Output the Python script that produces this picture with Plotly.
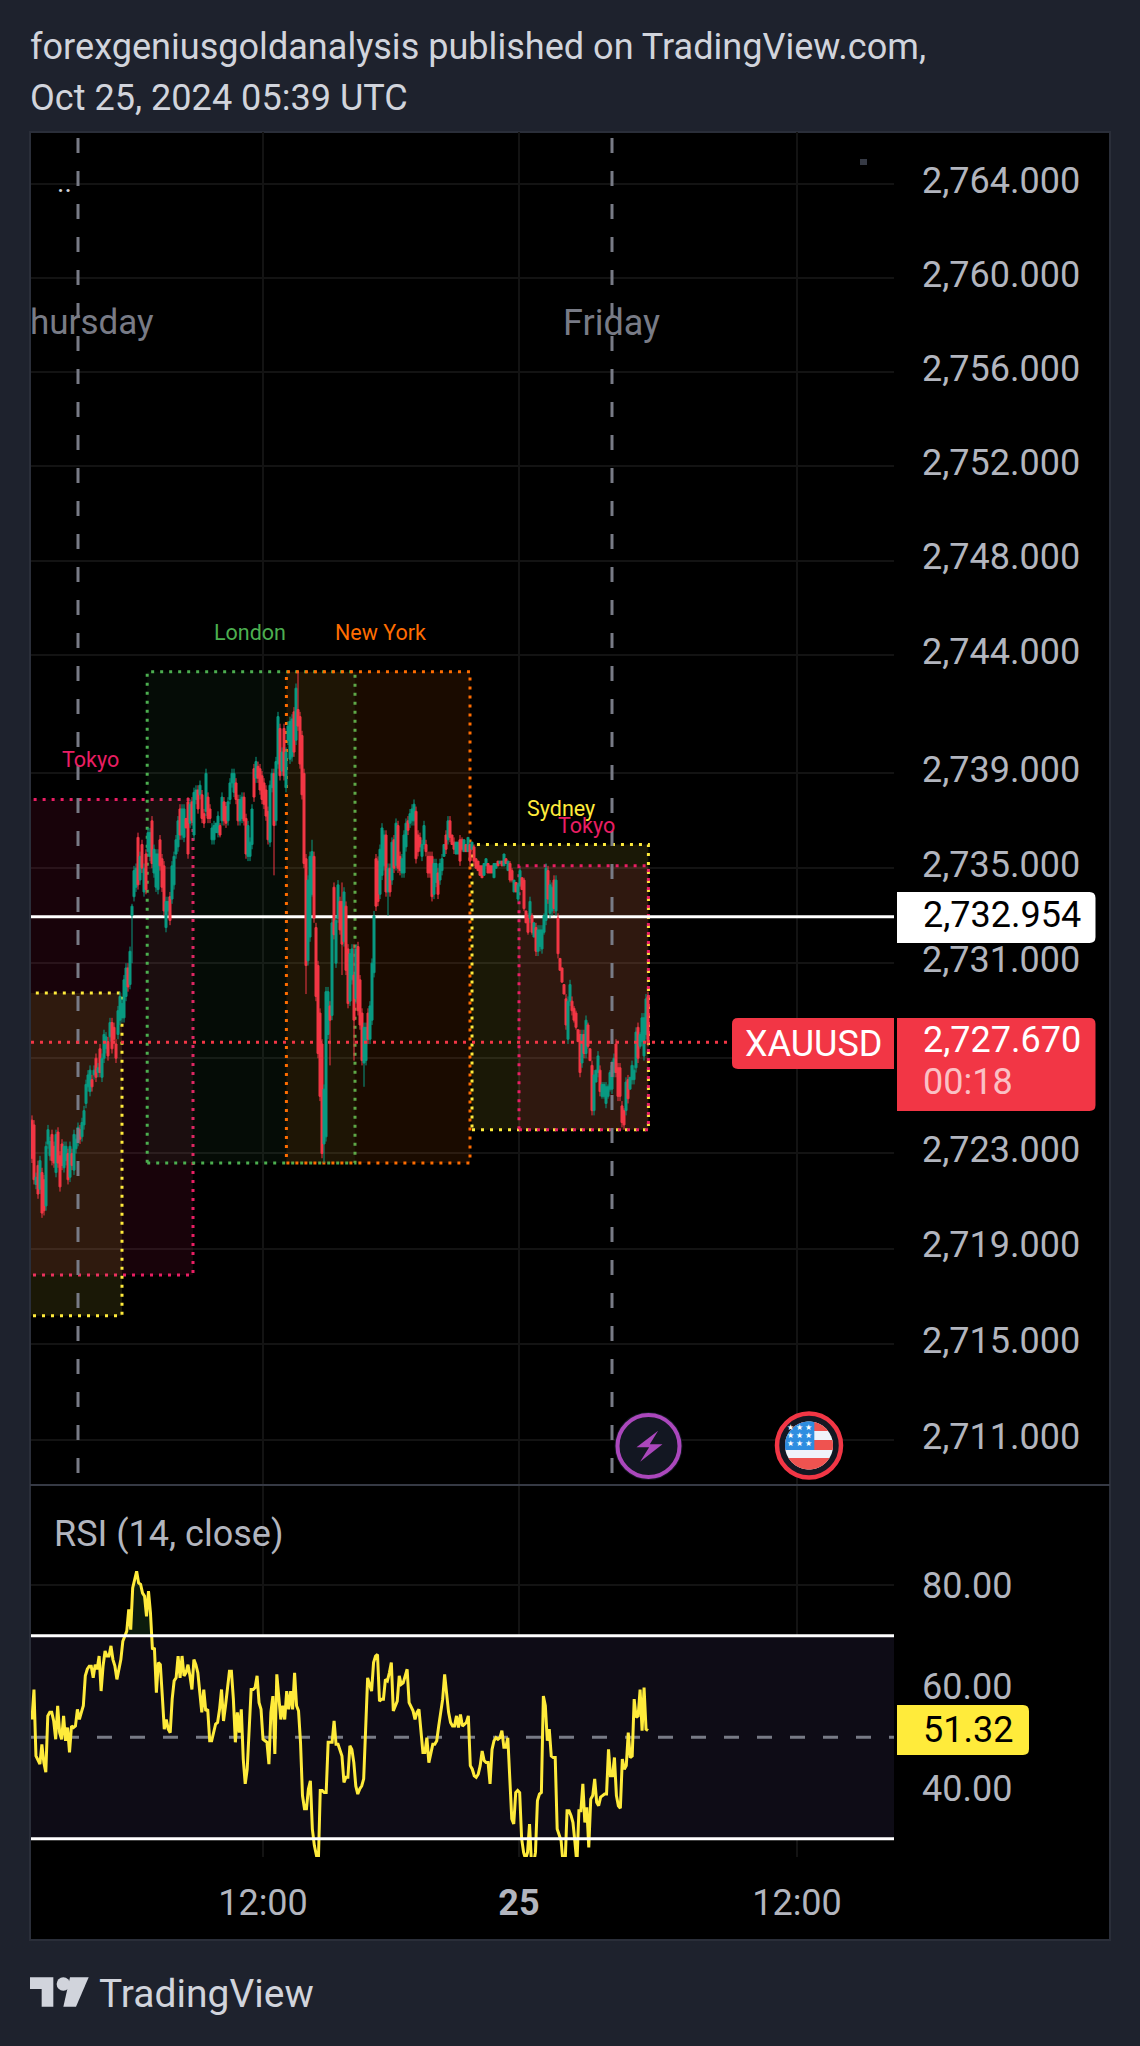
import math
import plotly.graph_objects as go

W, H = 1140, 2046
PRICE_BASE = 2700

# 5-minute XAUUSD bars, quoted as an offset from PRICE_BASE
bar_open = [
 24.4,24.2,21.7,22.5,21.5,22.2,21.9,20.8,23.4,22.9,
 23.8,23.3,22.2,23.9,22.9,23.4,22.4,22.7,23.0,22.0,
 23.0,22.3,23.2,23.5,24.0,23.7,24.2,25.1,25.8,25.6,
 26.1,26.3,27.0,26.4,27.4,26.2,27.0,27.4,27.7,27.9,
 28.5,28.3,27.6,28.0,28.6,28.7,28.7,29.6,30.8,30.1,
 33.0,33.8,34.2,36.3,34.5,36.0,34.0,35.6,35.7,35.5,
 37.0,34.8,34.2,34.1,36.2,35.4,35.1,32.5,33.2,33.8,
 33.7,34.3,35.6,35.9,37.5,36.4,36.3,37.1,37.8,36.9,
 37.8,36.4,37.9,38.3,38.1,38.1,37.3,37.4,38.0,37.5,
 36.2,36.2,36.5,36.5,36.8,37.0,37.8,37.6,37.0,37.9,
 38.6,38.2,38.6,37.9,37.0,37.1,38.0,37.1,35.5,35.5,
 36.0,39.2,38.8,39.3,39.2,38.9,38.6,38.3,37.4,36.1,
 38.4,39.0,37.0,39.4,40.9,39.1,40.9,38.4,40.4,39.6,
 39.7,41.6,40.4,41.7,41.4,40.6,39.0,35.4,31.1,32.1,
 33.9,35.5,32.5,30.9,28.9,27.6,23.4,23.7,28.0,29.2,
 28.8,34.2,31.0,32.9,33.6,33.6,31.9,33.4,31.6,29.4,
 30.3,30.5,29.5,31.7,30.3,28.9,26.8,26.9,28.9,27.8,
 28.6,30.6,35.4,35.3,33.9,34.7,35.1,36.4,34.0,35.0,
 34.5,36.2,35.1,36.8,35.5,34.8,34.8,35.9,37.0,36.9,
 37.0,37.0,37.4,36.4,36.3,35.5,36.0,36.0,35.5,35.5,
 35.5,33.9,34.4,34.8,34.5,34.9,35.5,36.4,36.2,37.0,
 36.4,36.1,35.6,35.6,36.2,36.2,35.7,36.0,35.7,36.0,
 35.8,35.9,35.4,35.3,35.1,35.1,34.7,35.1,35.2,35.1,
 35.1,34.6,35.0,35.3,35.2,35.3,35.1,35.4,34.9,35.2,
 34.9,34.0,34.4,33.7,34.3,34.6,34.5,33.2,33.0,32.9,
 33.0,32.1,32.5,31.5,31.7,31.6,32.3,32.8,34.9,33.1,
 33.2,34.5,33.2,32.9,31.2,30.8,30.1,29.5,27.8,29.4,
 29.4,29.1,28.9,28.2,28.0,26.8,28.0,27.2,28.4,27.4,
 26.7,24.8,26.0,26.4,26.5,25.4,25.4,25.1,25.4,25.7,
 25.7,26.4,27.6,26.6,26.6,25.0,24.8,24.8,26.1,25.7,
 26.1,26.1,26.6,28.3,27.5,27.7,27.1,28.0,29.6]
bar_close = [
 22.8,21.9,22.0,21.3,22.7,20.5,20.6,23.3,24.0,23.5,
 22.7,22.6,23.8,22.6,21.6,22.5,23.3,23.3,21.9,23.3,
 22.5,23.8,23.6,24.1,23.6,24.3,24.8,25.9,26.3,26.5,
 25.8,26.5,26.2,26.6,26.4,27.0,28.0,27.9,27.1,28.5,
 27.4,27.8,27.0,29.0,29.6,29.3,30.3,30.8,30.0,31.5,
 33.4,34.9,35.0,34.3,35.5,35.0,35.0,34.1,36.5,36.5,
 35.2,35.8,35.6,35.6,35.1,34.2,33.2,33.6,33.6,32.8,
 35.1,35.5,36.2,37.0,36.4,37.5,37.5,36.7,35.6,37.7,
 37.0,38.2,38.3,37.5,38.5,37.1,36.9,39.0,37.1,37.1,
 36.7,36.8,36.9,37.2,36.4,38.0,37.0,36.9,37.8,38.6,
 39.0,39.0,37.9,37.0,37.9,38.0,37.0,35.6,36.8,36.1,
 37.5,38.0,39.5,38.8,38.3,37.9,37.7,37.2,36.2,38.5,
 39.0,36.8,39.5,41.4,38.9,39.9,38.9,39.9,41.0,41.2,
 41.3,39.9,42.6,41.0,39.4,38.1,35.2,30.9,34.5,35.5,
 35.7,32.9,29.6,27.2,25.4,23.0,25.7,29.8,29.8,28.6,
 32.7,32.2,32.8,34.3,32.4,31.8,34.0,30.7,29.3,31.4,
 31.6,28.6,31.6,29.0,28.4,26.9,28.3,28.3,27.8,29.2,
 31.0,33.0,33.4,33.6,35.8,36.7,36.4,34.0,35.0,34.0,
 36.1,35.0,36.9,35.0,34.9,35.4,36.4,36.9,36.6,37.3,
 37.5,37.7,35.4,35.7,35.9,36.0,36.8,35.7,34.8,34.8,
 33.8,35.2,35.2,33.9,35.2,35.4,36.0,35.8,37.0,36.3,
 36.0,35.8,36.1,36.1,35.3,35.8,36.2,35.7,36.3,35.3,
 36.1,35.3,35.0,34.9,34.7,34.6,35.2,35.4,34.8,34.8,
 34.8,35.2,35.2,35.1,35.3,35.1,35.6,35.2,35.3,34.5,
 34.5,34.5,34.0,34.3,34.9,34.1,33.3,32.7,32.3,33.6,
 32.3,32.7,31.5,32.4,32.4,32.4,33.0,35.0,33.7,34.3,
 34.2,33.3,34.5,31.4,30.7,30.2,29.7,28.4,29.4,30.1,
 29.0,28.6,28.3,27.7,26.4,28.0,27.2,28.6,27.5,26.9,
 24.8,26.3,26.5,27.1,25.6,25.9,25.9,25.8,25.8,26.4,
 26.7,27.0,26.4,25.4,25.4,24.3,24.2,26.0,25.3,26.2,
 26.7,26.5,28.1,27.0,28.0,28.7,28.7,29.5,27.67]
bar_high = [
 24.6,24.4,22.2,22.7,22.9,22.4,22.1,23.5,24.2,23.7,
 24.0,23.5,24.0,24.1,23.1,23.6,23.5,23.5,23.2,23.5,
 23.2,24.0,23.8,24.3,24.2,24.5,25.0,26.1,26.5,26.7,
 26.3,26.7,27.2,26.8,27.6,27.2,28.2,28.1,27.9,28.7,
 28.7,28.5,27.8,29.2,29.8,29.5,30.5,31.0,31.0,31.7,
 33.5,35.1,35.2,36.5,35.7,36.2,35.2,35.8,36.7,36.7,
 37.2,36.0,35.8,35.8,36.4,35.6,35.3,33.8,33.8,34.0,
 35.3,35.7,36.4,37.2,37.7,37.7,37.7,37.1,38.0,37.9,
 38.0,38.4,38.5,38.5,38.7,38.3,37.5,39.2,38.2,37.7,
 36.9,37.0,36.9,37.4,36.9,38.2,38.0,37.8,38.0,38.8,
 39.2,39.2,38.8,38.1,38.1,38.2,38.2,37.3,37.0,36.3,
 37.7,39.4,39.7,39.5,39.4,39.1,38.8,38.5,37.6,38.7,
 39.2,39.2,39.7,41.6,41.1,40.1,41.1,40.1,41.2,41.4,
 41.5,41.8,42.8,43.3,41.6,40.8,39.2,35.6,34.7,35.7,
 36.2,35.7,32.7,31.1,29.1,27.8,25.9,30.0,30.0,29.4,
 32.9,34.4,33.0,34.5,33.8,34.4,34.2,33.6,31.8,31.6,
 31.8,31.8,31.8,31.9,30.5,29.1,28.5,28.5,29.1,29.4,
 31.2,33.2,35.6,35.5,36.0,36.9,36.6,36.6,35.2,35.2,
 36.3,36.4,37.1,37.0,35.7,35.6,36.6,37.1,37.2,37.5,
 37.7,37.9,37.6,36.6,36.5,36.2,37.0,36.2,35.7,35.7,
 35.7,35.4,35.4,35.0,35.4,35.6,36.0,36.6,37.2,37.2,
 36.4,36.3,36.1,36.1,36.4,36.3,36.2,36.0,36.3,36.1,
 36.1,36.0,35.4,35.3,35.1,35.1,35.2,35.4,35.2,35.1,
 35.1,35.2,35.2,35.3,35.3,35.3,35.6,35.4,35.3,35.3,
 35.0,34.5,34.4,34.4,35.0,34.6,34.6,33.2,33.1,33.8,
 33.1,32.7,32.7,32.6,32.6,32.6,33.1,35.2,35.1,34.5,
 34.4,34.7,34.7,33.1,31.2,30.8,30.1,29.7,29.6,30.3,
 29.6,29.2,29.0,28.2,28.2,28.2,28.2,28.8,28.5,27.4,
 26.9,26.5,26.5,27.3,26.7,26.0,26.0,26.0,25.9,26.5,
 26.9,27.2,27.8,26.8,26.8,25.2,24.9,26.2,26.3,26.2,
 26.9,26.7,28.3,28.5,28.1,28.9,28.9,29.7,29.8]
bar_low = [
 22.6,21.7,21.5,21.1,21.3,20.3,20.4,20.6,23.2,22.7,
 22.5,22.4,22.0,22.4,21.4,22.3,22.2,22.5,21.7,21.8,
 22.3,22.1,23.0,23.3,23.4,23.5,24.0,24.9,25.6,25.4,
 25.6,26.1,26.0,26.2,26.2,26.0,26.8,27.2,26.9,27.7,
 27.2,27.6,26.8,27.8,28.4,28.5,28.5,29.4,29.8,29.9,
 31.0,33.6,34.0,34.1,34.3,34.8,33.8,33.9,35.5,35.3,
 35.0,34.6,34.0,33.9,34.9,34.0,33.0,32.3,33.0,32.6,
 33.5,34.1,35.4,35.7,36.2,36.2,36.1,36.7,35.4,36.7,
 36.8,36.2,37.7,37.3,37.9,36.9,36.7,37.2,36.9,36.9,
 36.0,36.0,36.5,36.3,36.3,36.8,36.8,36.7,36.8,37.7,
 38.4,38.0,37.7,36.8,36.8,36.9,36.8,35.4,35.3,35.3,
 35.8,37.8,38.6,38.6,38.1,37.7,37.5,37.0,36.0,35.9,
 38.2,34.7,36.8,39.2,38.7,38.9,38.7,38.2,40.2,39.4,
 39.5,39.7,40.2,40.8,39.2,37.9,35.0,29.7,30.9,31.9,
 33.8,32.7,29.4,27.0,25.2,22.8,22.6,23.5,27.8,26.7,
 28.6,32.0,30.8,32.7,32.2,30.5,31.7,30.5,29.1,29.2,
 30.1,26.9,29.3,28.8,28.2,26.7,25.8,26.7,27.6,27.6,
 28.4,30.4,33.2,33.4,33.7,34.5,34.9,33.8,33.0,33.8,
 34.3,34.8,34.9,34.8,34.7,34.6,34.6,35.7,36.4,36.7,
 36.8,36.8,35.2,35.5,35.7,35.3,35.8,35.5,34.6,34.6,
 33.6,33.7,34.2,33.7,34.3,34.7,35.5,35.6,36.0,36.1,
 36.0,35.6,35.6,35.6,35.1,35.7,35.7,35.7,35.7,35.1,
 35.8,35.1,35.0,34.9,34.7,34.6,34.7,35.1,34.8,34.8,
 34.8,34.6,35.0,35.1,35.2,35.1,35.1,35.2,34.9,34.4,
 34.4,34.0,34.0,33.6,34.2,34.1,33.2,32.7,32.2,32.7,
 32.2,32.1,31.3,31.3,31.5,31.4,32.2,32.6,33.5,32.9,
 33.0,33.1,33.0,31.2,30.7,30.2,29.7,28.2,27.6,29.2,
 28.8,28.5,28.2,27.7,26.2,26.6,27.0,27.0,27.4,26.9,
 24.6,24.6,26.0,26.2,25.4,25.3,25.3,24.9,25.3,25.6,
 25.5,26.2,26.2,25.2,25.2,24.1,24.0,24.6,25.1,25.7,
 25.9,25.9,26.4,26.8,27.4,27.5,26.9,27.8,27.5]

# RSI(14) readings, spread evenly from the first bar to the most recent one
rsi_values = [
 53.5,59.4,46.3,45.4,44.7,48.6,45.0,43.1,54.2,54.9,54.9,53.2,49.6,56.2,50.9,49.6,
 54.2,49.3,51.9,47.0,52.2,51.9,52.2,55.5,53.5,54.9,56.2,62.1,63.4,64.0,64.0,61.7,
 64.3,63.4,66.0,59.1,64.0,67.0,66.0,66.0,68.0,65.3,64.0,61.4,63.4,65.3,68.9,69.9,
 70.9,75.2,71.2,79.4,81.0,82.7,80.4,80.1,78.4,77.8,73.8,78.8,74.5,67.3,67.6,58.8,
 64.7,64.3,58.1,51.6,53.5,51.6,50.9,57.5,61.1,61.7,66.0,61.7,66.0,62.1,62.7,64.3,
 62.1,59.4,65.3,64.3,62.7,58.1,54.9,59.4,55.2,55.5,49.3,49.3,50.9,52.6,52.9,55.5,
 59.4,53.2,56.2,59.4,63.0,63.0,57.5,49.0,54.9,50.9,55.5,45.7,40.8,43.7,50.9,59.4,
 59.4,59.8,62.1,56.8,55.5,49.6,49.3,49.0,44.7,54.9,58.1,46.7,62.4,58.1,53.5,56.2,
 53.5,59.1,55.5,59.1,55.5,62.7,56.2,55.2,49.0,38.5,35.9,35.9,39.8,41.4,31.9,28.7,
 26.7,25.0,39.5,39.5,39.1,39.1,49.0,49.0,49.0,53.2,48.6,48.6,47.6,46.3,41.1,42.1,
 42.1,48.3,47.6,45.0,40.4,38.8,
 39.8,40.4,41.8,52.2,61.7,60.4,59.1,64.7,66.0,66.3,57.1,57.5,57.5,61.4,61.1,62.7,
 64.7,55.2,56.2,57.1,62.1,60.4,60.7,62.1,63.4,56.8,55.8,55.2,53.5,54.9,55.5,50.9,
 47.0,47.0,49.9,45.0,47.0,48.6,48.6,49.3,52.2,54.9,57.5,62.4,58.8,54.9,52.9,52.2,
 52.2,54.2,51.9,54.5,52.2,52.6,52.9,54.2,44.4,43.7,42.4,42.1,42.7,44.4,47.3,45.4,
 45.0,45.0,40.8,47.6,49.3,49.9,49.6,49.9,51.3,48.0,48.0,49.9,41.1,33.9,32.9,39.1,
 39.5,39.1,30.0,27.3,26.0,27.3,32.9,25.0,25.0,27.3,37.5,38.8,39.1,58.1,56.2,49.3,
 51.6,46.3,46.0,46.0,31.9,30.6,29.6,25.0,25.0,35.5,35.5,34.6,33.2,29.3,25.0,35.5,
 35.5,40.8,33.2,36.2,28.3,37.8,38.5,41.8,37.2,36.5,38.2,38.5,38.8,38.8,47.6,42.4,
 42.4,46.0,38.5,36.5,36.0,45.7,43.7,44.4,50.9,46.0,46.3,57.5,53.9,54.2,59.4,51.3,
 59.8,51.6,51.32]

# Session windows: name, first bar, last bar, low, high (low/high as offsets)
# The two earliest sessions opened before the first visible bar.
session_names = ["Tokyo", "Sydney", "London", "New York", "Sydney", "Tokyo"]
session_start = [-40, -40, 57.6, 127.2, 220, 243.5]
session_end = [80.5, 45, 161.5, 219, 308.2, 308.2]
session_low = [17.9, 16.2, 22.6, 22.6, 24.0, 24.0]
session_high = [37.9, 29.75, 43.3, 43.3, 36.0, 35.1]

price_ticks = [2764, 2760, 2756, 2752, 2748, 2744, 2739, 2735, 2731, 2727, 2723, 2719, 2715, 2711]
price_tick_text = ["2,764.000", "2,760.000", "2,756.000", "2,752.000", "2,748.000", "2,744.000",
                   "2,739.000", "2,735.000", "2,731.000", "", "2,723.000", "2,719.000",
                   "2,715.000", "2,711.000"]
rsi_ticks = [80, 60, 40]
rsi_tick_text = ["80.00", "60.00", "40.00"]
time_ticks = [115.5, 243.5, 382.5]
time_tick_text = ["12:00", "<b>25</b>", "12:00"]
session_breaks = [23, 290]

LAST_PRICE = 2727.670
MARKED_PRICE = 2732.954
LAST_RSI = 51.32

BG = "#1e222d"
UP = "#089981"
DOWN = "#f23645"
GRID = "#131313"
AXIS_TEXT = "#b2b5be"
SESSION_COLORS = {"Tokyo": "233,30,99", "Sydney": "255,235,59", "London": "76,175,80", "New York": "255,109,0"}
SESSION_ALPHA = {"Tokyo": 0.10, "Sydney": 0.10, "London": 0.07, "New York": 0.10}


def px(x):
    return x / W


def py(y):
    return 1 - y / H


def path_of(points):
    return "M " + " L ".join(f"{px(x):.5f} {py(y):.5f}" for x, y in points) + " Z"


def round_rect(x0, y0, x1, y1, rl, rr):
    a, b, c, d = px(x0), py(y0), px(x1), py(y1)
    lx, ly, rx, ry = px(rl), rl / H, px(rr), rr / H
    return (f"M {a+lx:.5f} {b:.5f} L {c-rx:.5f} {b:.5f} Q {c:.5f} {b:.5f} {c:.5f} {b-ry:.5f} "
            f"L {c:.5f} {d+ry:.5f} Q {c:.5f} {d:.5f} {c-rx:.5f} {d:.5f} L {a+lx:.5f} {d:.5f} "
            f"Q {a:.5f} {d:.5f} {a:.5f} {d+ly:.5f} L {a:.5f} {b-ly:.5f} Q {a:.5f} {b:.5f} {a+lx:.5f} {b:.5f} Z")


def disc_part(cx, cy, r, x0, x1, y0, y1):
    pts = []
    for k in range(96):
        t = 2 * math.pi * k / 96
        pts.append((min(max(cx + r * math.cos(t), x0), x1), min(max(cy + r * math.sin(t), y0), y1)))
    return path_of(pts)


shapes, notes = [], []


def paper_shape(**kw):
    shapes.append(dict(xref="paper", yref="paper", layer="above", **kw))


def paper_rect(x0, y0, x1, y1, **kw):
    paper_shape(type="rect", x0=px(x0), x1=px(x1), y0=py(y0), y1=py(y1), **kw)


def paper_circle(cx, cy, r, **kw):
    paper_shape(type="circle", x0=px(cx - r), x1=px(cx + r), y0=py(cy + r), y1=py(cy - r), **kw)


def label(text, x, y, size, color, anchor="left", family="Roboto"):
    notes.append(dict(text=text, x=px(x), y=py(y), xref="paper", yref="paper", showarrow=False,
                      xanchor=anchor, yanchor="middle", font=dict(family=family, size=size, color=color)))


# page frame and black chart well
shapes.append(dict(type="rect", xref="paper", yref="paper", x0=px(30), x1=px(1110), y0=py(132), y1=py(1940),
                   fillcolor="#000000", line=dict(color="#2a2e39", width=2), layer="below"))

# session boxes
for name, x0, x1, lo, hi in zip(session_names, session_start, session_end, session_low, session_high):
    rgb = SESSION_COLORS[name]
    shapes.append(dict(type="rect", xref="x", yref="y", x0=x0, x1=x1, y0=PRICE_BASE + lo, y1=PRICE_BASE + hi,
                       fillcolor=f"rgba({rgb},{SESSION_ALPHA[name]})",
                       line=dict(color=f"rgb({rgb})", width=3, dash="3px,6px"), layer="between"))

# session break markers
for b in session_breaks:
    shapes.append(dict(type="line", xref="x", yref="paper", x0=b, x1=b, y0=py(138), y1=py(1473),
                       line=dict(color="#787b86", width=3, dash="15px,18px"), layer="above"))

# horizontal price levels
shapes.append(dict(type="line", xref="x", yref="y", x0=-0.5, x1=431, y0=MARKED_PRICE, y1=MARKED_PRICE,
                   line=dict(color="#ffffff", width=3), layer="between"))
shapes.append(dict(type="line", xref="x", yref="y", x0=-0.5, x1=350, y0=LAST_PRICE, y1=LAST_PRICE,
                   line=dict(color=DOWN, width=3, dash="3px,6px"), layer="above"))

# RSI band and levels
shapes.append(dict(type="rect", xref="x2", yref="y2", x0=-0.5, x1=431, y0=30, y1=70,
                   fillcolor="#0e0c16", line=dict(width=0), layer="between"))
for level in (70, 30):
    shapes.append(dict(type="line", xref="x2", yref="y2", x0=-0.5, x1=431, y0=level, y1=level,
                       line=dict(color="#ffffff", width=3), layer="above"))
shapes.append(dict(type="line", xref="x2", yref="y2", x0=-0.5, x1=431, y0=50, y1=50,
                   line=dict(color="#787b86", width=3, dash="15px,18px"), layer="between"))

# pane divider and the small scale marker
paper_rect(30, 1484, 1110, 1486, fillcolor="#363a45", line=dict(width=0))
paper_rect(860, 159, 867, 165, fillcolor="#363a45", line=dict(width=0))

# price tags on the scale
paper_shape(type="path", path=round_rect(897, 892, 1095.5, 943, 0, 6), fillcolor="#ffffff", line=dict(width=0))
paper_shape(type="path", path=round_rect(897, 1018, 1095.5, 1111, 0, 6), fillcolor=DOWN, line=dict(width=0))
paper_shape(type="path", path=round_rect(732, 1018, 894, 1069, 6, 0), fillcolor=DOWN, line=dict(width=0))
paper_shape(type="path", path=round_rect(897, 1705, 1029, 1755, 0, 6), fillcolor="#ffeb3b", line=dict(width=0))

# lightning event badge
paper_circle(648.5, 1446, 34, fillcolor="#131722", line=dict(width=0))
paper_circle(648.5, 1446, 31, fillcolor="#131722", line=dict(color="#ab47bc", width=4))
bolt = [(232, 122), (167, 172), (205, 172), (178, 215), (245, 163), (207, 163)]
paper_shape(type="path", path=path_of([(580.8 + a / 3, 1390 + b / 3) for a, b in bolt]),
            fillcolor="#ab47bc", line=dict(width=0))

# US flag event badge
fx, fy, fr = 809, 1445.5, 24
paper_circle(fx, fy, 32, fillcolor="#131722", line=dict(color=DOWN, width=4.5))
paper_shape(type="path", path=disc_part(fx, fy, fr, 0, 2000, 0, 3000), fillcolor="#f0f3fa", line=dict(width=0))
for y0, y1 in ((1422, 1431), (1440, 1450), (1458, 1470)):
    paper_shape(type="path", path=disc_part(fx, fy, fr, 0, 2000, y0, y1), fillcolor="#ef5350", line=dict(width=0))
paper_shape(type="path", path=disc_part(fx, fy, fr, 0, 814.3, 0, 1450), fillcolor="#2e8de0", line=dict(width=0))
for sx in (790, 799, 808):
    for sy in (1427, 1435, 1443):
        label("★", sx, sy, 8, "#ffffff", "center", "DejaVu Sans")

# TradingView logo
logo_t = [(90, 232), (160, 232), (160, 320), (125, 320), (125, 267), (90, 267)]
logo_s = [(210, 232), (266, 232), (228, 320), (190, 320)]
for poly in (logo_t, logo_s):
    paper_shape(type="path", path=path_of([(a / 3, 1900 + b / 3) for a, b in poly]),
                fillcolor="#d1d4dc", line=dict(width=0))
paper_circle(190 / 3, 1900 + 252 / 3, 6.7, fillcolor="#d1d4dc", line=dict(width=0))

# text
label("forexgeniusgoldanalysis published on TradingView.com,", 28, 47, 36.1, "#d1d4dc")
label("Oct 25, 2024 05:39 UTC", 28, 98.5, 36.1, "#d1d4dc")
label("TradingView", 97, 1994, 39, "#d1d4dc")
label("hursday", 28, 323, 35, "#787b86")
label("Friday", 611.5, 323, 36, "#787b86", "center")
label("..", 64, 182, 28, "#d1d4dc", "center")
label("Tokyo", 90, 759, 21.5, "#e91e63", "center")
label("London", 250, 633, 21.5, "#4caf50", "center")
label("New York", 380, 633, 21.5, "#ff6d00", "center")
label("Sydney", 561, 808, 21.5, "#ffeb3b", "center")
label("Tokyo", 586, 825, 21.5, "#e91e63", "center")
label("RSI (14, close)", 52, 1534, 36, AXIS_TEXT)
label("2,732.954", 920.5, 915, 36, "#000000")
label(f"{LAST_PRICE:,.3f}", 920.5, 1040, 36, "#ffffff")
label("00:18", 920.5, 1082, 36, "rgba(255,255,255,0.7)")
label("XAUUSD", 743, 1044, 36, "#ffffff")
label(f"{LAST_RSI:.2f}", 920.5, 1730, 36, "#000000")

n = len(bar_close)
bar_index = list(range(n))
rsi_index = [k * (n - 1) / (len(rsi_values) - 1) for k in range(len(rsi_values))]

fig = go.Figure()
fig.add_trace(go.Candlestick(
    x=bar_index,
    open=[PRICE_BASE + v for v in bar_open],
    high=[PRICE_BASE + v for v in bar_high],
    low=[PRICE_BASE + v for v in bar_low],
    close=[PRICE_BASE + v for v in bar_close],
    increasing=dict(line=dict(color=UP, width=1), fillcolor=UP),
    decreasing=dict(line=dict(color=DOWN, width=1), fillcolor=DOWN),
    xaxis="x", yaxis="y", hoverinfo="skip", showlegend=False))
# shading where RSI sits above the 70 level
fig.add_trace(go.Scatter(x=rsi_index, y=[70] * len(rsi_values), mode="lines", line=dict(width=0),
                         xaxis="x2", yaxis="y2", hoverinfo="skip", showlegend=False))
fig.add_trace(go.Scatter(x=rsi_index, y=[max(v, 70) for v in rsi_values], mode="lines", line=dict(width=0),
                         fill="tonexty", fillcolor="rgba(76,175,80,0.16)",
                         xaxis="x2", yaxis="y2", hoverinfo="skip", showlegend=False))
fig.add_trace(go.Scatter(x=rsi_index, y=rsi_values, mode="lines", line=dict(color="#ffeb3b", width=3),
                         xaxis="x2", yaxis="y2", hoverinfo="skip", showlegend=False))

x_domain = [px(31), px(894)]
x_range = [-0.5, 431]
tick_font = dict(family="Roboto", size=36, color=AXIS_TEXT)

# logarithmic price scale: 2764 and 2711 sit 1256 px apart
log_top = math.log10(2764)
px_per_decade = 1256 / (log_top - math.log10(2711))
price_range = [log_top - (1484 - 184) / px_per_decade, log_top + (184 - 132) / px_per_decade]

fig.update_layout(
    width=W, height=H, margin=dict(l=0, r=0, t=0, b=0),
    paper_bgcolor=BG, plot_bgcolor="rgba(0,0,0,0)",
    showlegend=False, boxgap=0, boxgroupgap=0, hovermode=False,
    shapes=shapes, annotations=notes,
    xaxis=dict(domain=x_domain, range=x_range, anchor="y", tickvals=time_ticks, showticklabels=False,
               gridcolor=GRID, gridwidth=2, zeroline=False, rangeslider=dict(visible=False), ticklen=0,
               showline=False),
    xaxis2=dict(domain=x_domain, range=x_range, anchor="y2", tickvals=time_ticks, ticktext=time_tick_text,
                tickfont=tick_font, gridcolor=GRID, gridwidth=2, zeroline=False, ticklen=0,
                ticklabelstandoff=21, showline=False),
    yaxis=dict(domain=[py(1484), py(132)], type="log", range=price_range,
               anchor="x", side="right", tickvals=price_ticks, ticktext=price_tick_text, tickfont=tick_font,
               gridcolor=GRID, gridwidth=2, zeroline=False, ticklen=0, ticklabelstandoff=27,
               ticklabelshift=-4, showline=False),
    yaxis2=dict(domain=[py(1857), py(1486)], range=[26.4, 99.5], anchor="x2", side="right",
                tickvals=rsi_ticks, ticktext=rsi_tick_text, tickfont=tick_font,
                gridcolor=GRID, gridwidth=2, zeroline=False, ticklen=0, ticklabelstandoff=27, showline=False),
)

fig.write_html("out.html")
